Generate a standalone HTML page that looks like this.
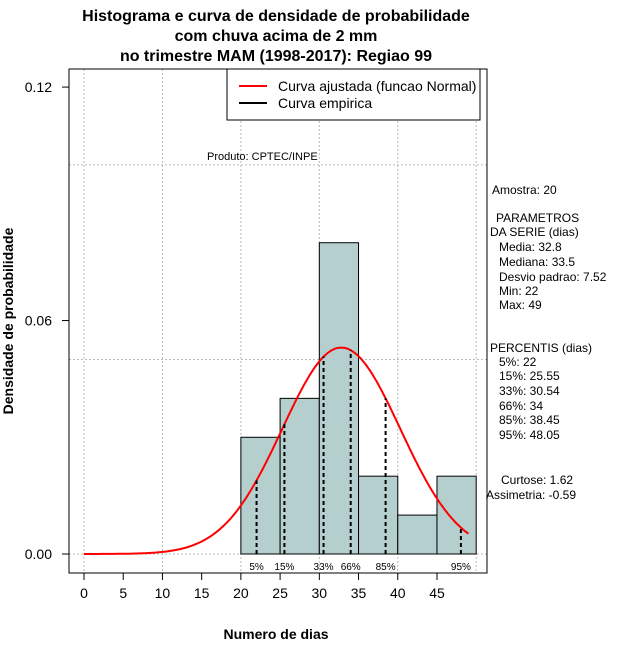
<!DOCTYPE html>
<html><head><meta charset="utf-8"><style>
body{margin:0;background:#fff;}
svg text{font-family:"Liberation Sans",sans-serif;}
</style></head><body>
<svg id="chart" width="640" height="660" xmlns="http://www.w3.org/2000/svg">
<g id="grid"></g>
<g id="bars"></g>
<path id="curve" fill="none" stroke="#ff0000" stroke-width="2"/>
<g id="pct"></g>
<rect x="69" y="69" width="418" height="504" fill="none" stroke="#000"/>
<g id="axes"></g>
<g font-weight="bold" font-size="16" text-anchor="middle">
<text x="276" y="21">Histograma e curva de densidade de probabilidade</text>
<text x="276" y="41">com chuva acima de 2 mm</text>
<text x="276" y="61">no trimestre MAM (1998-2017): Regiao 99</text>
</g>
<text x="276" y="639" font-size="14" font-weight="bold" text-anchor="middle">Numero de dias</text>
<text transform="translate(13,321) rotate(-90)" font-size="14" font-weight="bold" text-anchor="middle">Densidade de probabilidade</text>
<g>
<rect x="227" y="69" width="253" height="51" fill="#fff" stroke="#000"/>
<line x1="239" y1="86" x2="267" y2="86" stroke="#ff0000" stroke-width="2"/>
<text x="278" y="91" font-size="14">Curva ajustada (funcao Normal)</text>
<line x1="239" y1="103" x2="267" y2="103" stroke="#000" stroke-width="2"/>
<text x="278" y="108" font-size="14">Curva empirica</text>
</g>
<text x="207" y="160" font-size="11">Produto: CPTEC/INPE</text>
<g font-size="12">
<text x="492" y="194">Amostra: 20</text>
<text x="496" y="222">PARAMETROS</text>
<text x="490" y="236">DA SERIE (dias)</text>
<text x="499" y="251">Media: 32.8</text>
<text x="499" y="266">Mediana: 33.5</text>
<text x="499" y="281">Desvio padrao: 7.52</text>
<text x="499" y="295">Min: 22</text>
<text x="499" y="309">Max: 49</text>
<text x="490" y="352">PERCENTIS (dias)</text>
<text x="499" y="366">5%: 22</text>
<text x="499" y="380">15%: 25.55</text>
<text x="499" y="395">33%: 30.54</text>
<text x="499" y="410">66%: 34</text>
<text x="499" y="424">85%: 38.45</text>
<text x="499" y="439">95%: 48.05</text>
<text x="501" y="484">Curtose: 1.62</text>
<text x="486" y="499">Assimetria: -0.59</text>
</g>
</svg>
<script>
const binStarts=[20,25,30,35,40,45];
const densities=[0.03,0.04,0.08,0.02,0.01,0.02];
const meanVal=32.8, sdVal=7.52;
const pctValues=[22,25.55,30.54,34,38.45,48.05];
const pctLabels=["5%","15%","33%","66%","85%","95%"];
const xTicks=[0,5,10,15,20,25,30,35,40,45];
const yTicks=[0,0.06,0.12];
const NS="http://www.w3.org/2000/svg";
const X=v=>84+v*7.844, Y=v=>554-v*3891;
function mk(t,a,p){const e=document.createElementNS(NS,t);for(const k in a)e.setAttribute(k,a[k]);p.appendChild(e);return e;}
const grid=document.getElementById('grid');
[0,10,20,30,40,50].forEach(v=>{const l=mk('line',{x1:X(v),x2:X(v),y1:69,y2:573,stroke:'#bbb','stroke-dasharray':'2,2'},grid);

});
[0,0.05,0.1].forEach(v=>{const l=mk('line',{x1:69,x2:487,y1:Y(v),y2:Y(v),stroke:'#bbb','stroke-dasharray':'2,2'},grid);

});
const bars=document.getElementById('bars');
binStarts.forEach((b,i)=>{const r=mk('rect',{x:X(b),y:Y(densities[i]),width:X(b+5)-X(b),height:Y(0)-Y(densities[i]),fill:'#b5cece',stroke:'#000'},bars);

});
const pdf=x=>Math.exp(-0.5*((x-meanVal)/sdVal)**2)/(sdVal*Math.sqrt(2*Math.PI));
let d='';for(let x=0;x<=49;x+=0.25)d+=(x?'L':'M')+X(x).toFixed(1)+','+Y(pdf(x)).toFixed(1);
document.getElementById('curve').setAttribute('d',d);
const pct=document.getElementById('pct');
pctValues.forEach((v,i)=>{const l=mk('line',{x1:X(v),x2:X(v),y1:Y(0),y2:Y(pdf(v)),stroke:'#000','stroke-width':2,'stroke-dasharray':'4,3'},pct);


const t=mk('text',{x:X(v),y:570,'font-size':10,'text-anchor':'middle'},pct);t.textContent=pctLabels[i];

});
const ax=document.getElementById('axes');
mk('line',{x1:X(0),x2:X(45),y1:573,y2:573,stroke:'#000'},ax);
xTicks.forEach(v=>{mk('line',{x1:X(v),x2:X(v),y1:573,y2:580,stroke:'#000'},ax);
const t=mk('text',{x:X(v),y:598,'font-size':14,'text-anchor':'middle'},ax);t.textContent=v;

});
mk('line',{x1:69,x2:69,y1:Y(0),y2:Y(0.12),stroke:'#000'},ax);
yTicks.forEach(v=>{mk('line',{x1:62,x2:69,y1:Y(v),y2:Y(v),stroke:'#000'},ax);
const t=mk('text',{x:52,y:Y(v)+5,'font-size':14,'text-anchor':'end'},ax);t.textContent=v.toFixed(2);

});
</script>
</body></html>
